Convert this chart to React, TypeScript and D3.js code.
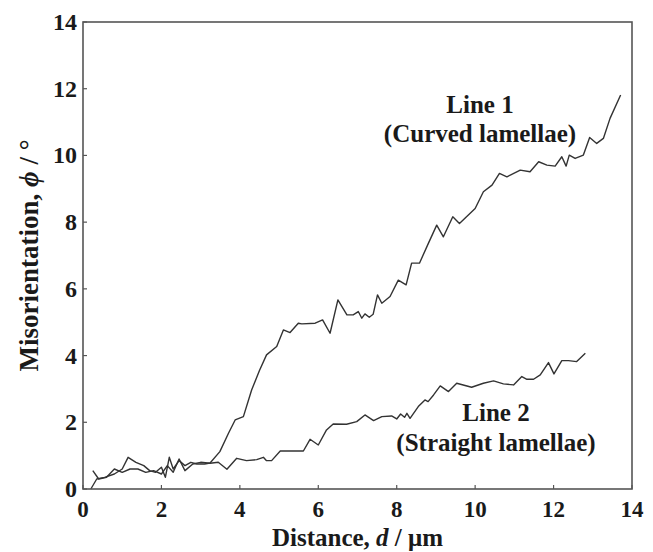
import React from "react";
import * as d3 from "d3";

const line1Distance = [0.2,0.35,0.55,0.8,1.0,1.15,1.35,1.55,1.7,1.85,2.0,2.1,2.2,2.3,2.45,2.6,2.75,2.9,3.1,3.24,3.49,3.71,3.88,4.09,4.3,4.5,4.68,4.94,5.11,5.28,5.49,5.58,5.92,6.11,6.3,6.5,6.73,6.89,7.02,7.11,7.19,7.3,7.4,7.51,7.62,7.83,8.04,8.24,8.38,8.58,8.81,9.02,9.19,9.43,9.6,10.0,10.21,10.43,10.62,10.81,11.15,11.4,11.62,11.83,12.04,12.21,12.32,12.4,12.55,12.76,12.92,13.1,13.27,13.44,13.71];
const line1Misorientation = [0.0,0.3,0.35,0.45,0.6,0.95,0.8,0.7,0.55,0.5,0.65,0.35,0.95,0.6,0.85,0.7,0.8,0.75,0.75,0.78,1.12,1.67,2.07,2.17,2.97,3.55,4.02,4.27,4.77,4.69,4.97,4.95,4.97,5.07,4.67,5.67,5.22,5.22,5.32,5.12,5.25,5.15,5.24,5.82,5.57,5.77,6.26,6.12,6.77,6.77,7.37,7.91,7.56,8.16,7.96,8.41,8.91,9.11,9.46,9.36,9.56,9.51,9.81,9.71,9.68,9.96,9.68,10.01,9.91,10.01,10.54,10.36,10.51,11.11,11.81];

const line2Distance = [0.25,0.4,0.6,0.8,1.0,1.2,1.4,1.6,1.8,2.0,2.15,2.3,2.45,2.6,2.8,3.0,3.24,3.45,3.67,3.92,4.17,4.43,4.6,4.68,4.81,5.03,5.62,5.79,6.0,6.21,6.38,6.72,6.98,7.19,7.41,7.62,7.87,8.0,8.1,8.2,8.26,8.34,8.55,8.72,8.8,8.94,9.11,9.32,9.53,9.91,10.21,10.47,10.72,10.98,11.19,11.32,11.49,11.66,11.87,12.01,12.21,12.38,12.59,12.81];
const line2Misorientation = [0.55,0.3,0.35,0.6,0.5,0.6,0.6,0.5,0.55,0.45,0.7,0.5,0.9,0.55,0.75,0.8,0.77,0.8,0.59,0.92,0.85,0.88,0.95,0.85,0.85,1.14,1.14,1.49,1.32,1.77,1.95,1.94,2.02,2.22,2.05,2.17,2.19,2.1,2.25,2.15,2.27,2.12,2.47,2.67,2.62,2.82,3.09,2.92,3.17,3.05,3.17,3.24,3.15,3.12,3.37,3.29,3.29,3.42,3.79,3.45,3.85,3.85,3.82,4.07];

const xTicks = [0, 2, 4, 6, 8, 10, 12, 14];
const yTicks = [0, 2, 4, 6, 8, 10, 12, 14];

const W = 653, H = 552;
const left = 83, right = 632, top = 22, bottom = 489;
const FONT = "'Liberation Serif', 'Times New Roman', serif";

export default function App() {
  const x = d3.scaleLinear().domain([0, 14]).range([left, right]);
  const y = d3.scaleLinear().domain([0, 14]).range([bottom, top]);
  const path = (xs: number[], ys: number[]) =>
    d3.line<number>()
      .x((_, i) => x(xs[i]))
      .y((_, i) => y(ys[i]))(xs) as string;

  return (
    <svg width={W} height={H} style={{ position: "absolute", left: 0, top: 0, background: "#fff" }}>
      <rect x={0} y={0} width={W} height={H} fill="#fff" />
      <g fontFamily={FONT} fontWeight="bold" fill="#1a1a1a">
        {yTicks.map((t) => (
          <g key={"y" + t}>
            <line x1={left} x2={left + 4} y1={y(t)} y2={y(t)} stroke="#555" strokeWidth={1.2} />
            <text x={77} y={y(t) + 8} textAnchor="end" fontSize={24}>{t}</text>
          </g>
        ))}
        {xTicks.map((t) => (
          <g key={"x" + t}>
            <line x1={x(t)} x2={x(t)} y1={bottom} y2={bottom - 4} stroke="#555" strokeWidth={1.2} />
            <text x={x(t)} y={517} textAnchor="middle" fontSize={23}>{t}</text>
          </g>
        ))}
        <text x={(left + right) / 2} y={546} textAnchor="middle" fontSize={25}>
          Distance, <tspan fontStyle="italic">d</tspan> / μm
        </text>
        <text transform={`translate(38,${(top + bottom) / 2}) rotate(-90)`} textAnchor="middle" fontSize={27}>
          Misorientation, <tspan fontStyle="italic">ϕ</tspan> / °
        </text>
        <text x={480} y={113} textAnchor="middle" fontSize={25}>Line 1</text>
        <text x={480} y={142} textAnchor="middle" fontSize={25}>(Curved lamellae)</text>
        <text x={496} y={421} textAnchor="middle" fontSize={25}>Line 2</text>
        <text x={496} y={451} textAnchor="middle" fontSize={25}>(Straight lamellae)</text>
      </g>
      <path d={path(line1Distance, line1Misorientation)} fill="none" stroke="#333" strokeWidth={1.4} strokeLinejoin="round" />
      <path d={path(line2Distance, line2Misorientation)} fill="none" stroke="#333" strokeWidth={1.4} strokeLinejoin="round" />
      <rect x={left} y={top} width={right - left} height={bottom - top} fill="none" stroke="#555" strokeWidth={1.6} />
    </svg>
  );
}
